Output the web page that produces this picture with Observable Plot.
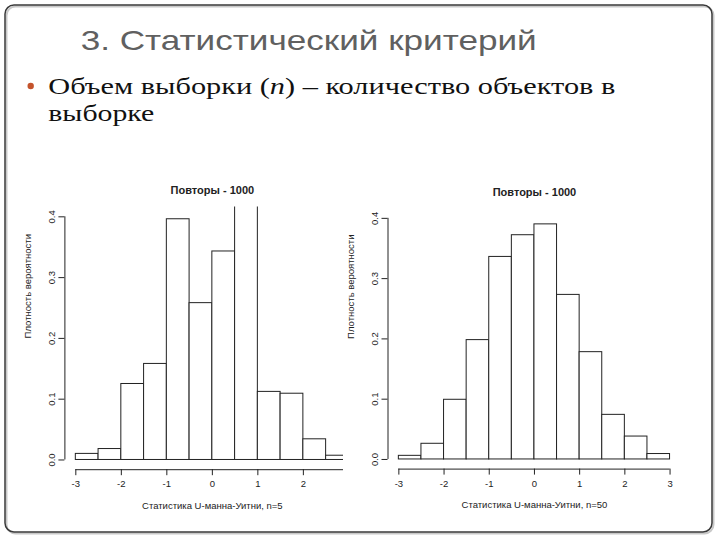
<!DOCTYPE html>
<html>
<head>
<meta charset="utf-8">
<script src="https://cdn.jsdelivr.net/npm/d3@7"></script>
<script src="https://cdn.jsdelivr.net/npm/@observablehq/plot@0.6"></script>
<style>
  html, body { margin: 0; padding: 0; background: #fff; width: 720px; height: 540px; overflow: hidden; }
  .chartbox { position: absolute; overflow: hidden; }
  .chartbox svg { max-width: none !important; display: block; }
  #overlay { position: absolute; left: 0; top: 0; pointer-events: none; }
</style>
</head>
<body>
<div id="left" class="chartbox" style="left:20px; top:170px; width:323px; height:360px;"></div>
<div id="right" class="chartbox" style="left:343px; top:170px; width:368px; height:360px;"></div>
<svg id="overlay" width="720" height="540">
  <rect x="6.5" y="6.5" width="707" height="527" rx="9" fill="none" stroke="#c8c8c8" stroke-width="2"/>
  <rect x="5" y="5" width="707" height="527" rx="9" fill="none" stroke="#3a3a3a" stroke-width="1.5"/>
  <text x="80.7" y="50" font-family="'Liberation Sans', Arial, sans-serif" font-size="28" fill="#606060" textLength="456" lengthAdjust="spacingAndGlyphs">3. Статистический критерий</text>
  <circle cx="30.7" cy="86" r="3.2" fill="#c4532c"/>
  <text x="48.3" y="94.3" font-family="'Liberation Serif', 'DejaVu Serif', serif" font-size="24" fill="#111" textLength="567" lengthAdjust="spacingAndGlyphs">Объем выборки (<tspan font-style="italic">n</tspan>) – количество объектов в</text>
  <text x="48.3" y="121" font-family="'Liberation Serif', 'DejaVu Serif', serif" font-size="24" fill="#111" textLength="106" lengthAdjust="spacingAndGlyphs">выборке</text>
</svg>
<script>
// ---- data ----
const binStart = [-3, -2.5, -2, -1.5, -1, -0.5, 0, 0.5, 1, 1.5, 2, 2.5];
const binEnd   = [-2.5, -2, -1.5, -1, -0.5, 0, 0.5, 1, 1.5, 2, 2.5, 3];
const densityN5  = [0.010, 0.018, 0.125, 0.158, 0.396, 0.258, 0.343, 0.43, 0.112, 0.109, 0.034, 0.007];
const densityN50 = [0.006, 0.026, 0.099, 0.198, 0.336, 0.372, 0.390, 0.273, 0.178, 0.074, 0.038, 0.009];
const xTicks = [-3, -2, -1, 0, 1, 2, 3];
const xTicksShownN5 = [-3, -2, -1, 0, 1, 2];   // left picture is cropped before "3"
const yTicks = [0, 0.1, 0.2, 0.3, 0.4];
const chartTitle = "Повторы - 1000";
const yLabel = "Плотность вероятности";
const xLabelN5 = "Статистика U-манна-Уитни, n=5";
const xLabelN50 = "Статистика U-манна-Уитни, n=50";

function hist(density, xLabel, shownTicks, dims) {
  const xlo = xTicks[0], xhi = xTicks[xTicks.length - 1];
  const ylo = yTicks[0], yhi = yTicks[yTicks.length - 1];
  const xpad = (xhi - xlo) * 0.04, ypad = (yhi - ylo) * 0.04;
  const data = binStart.map((s, i) => ({x1: s, x2: binEnd[i], d: density[i]}));
  const ink = "#222";
  const svg = Plot.plot({
    ...dims,
    style: {fontFamily: "Liberation Sans, Arial, sans-serif", fontSize: "9.5px", color: ink, background: "transparent", maxWidth: "none"},
    x: {domain: [xlo - xpad, xhi + xpad], label: null},
    y: {domain: [ylo - ypad, yhi + ypad], label: null},
    marks: [
      Plot.rectY(data, {x1: "x1", x2: "x2", y: "d", fill: "white", stroke: ink, strokeWidth: 1, clip: true}),
      Plot.ruleX([xlo - xpad], {y1: ylo, y2: yhi, stroke: ink}),
      Plot.ruleY([ylo - ypad], {x1: xlo, x2: xhi, stroke: ink}),
      Plot.axisX({ticks: shownTicks, tickSize: 6, tickPadding: 5, tickFormat: d => String(d), label: null}),
      Plot.axisY({ticks: yTicks, tickSize: 6, tickPadding: 4, tickRotate: -90, tickFormat: d => d.toFixed(1), label: null}),
      Plot.text([chartTitle], {text: d => d, frameAnchor: "top", dy: -21, fontWeight: "bold", fontSize: 11}),
      Plot.text([yLabel], {text: d => d, frameAnchor: "left", dx: -37, rotate: -90, fontSize: 9.5}),
      Plot.text([xLabel], {text: d => d, frameAnchor: "bottom", dy: 39, fontSize: 9.5})
    ]
  });
  svg.style.maxWidth = "none";
  return svg;
}

document.getElementById("left").append(
  hist(densityN5, xLabelN5, xTicksShownN5, {width: 360, height: 360, marginLeft: 44.4, marginRight: 20.7, marginTop: 36.6, marginBottom: 60.8})
);
document.getElementById("right").append(
  hist(densityN50, xLabelN50, xTicks, {width: 370, height: 360, marginLeft: 44.5, marginRight: 32.6, marginTop: 38.2, marginBottom: 61.4})
);
</script>
</body>
</html>
